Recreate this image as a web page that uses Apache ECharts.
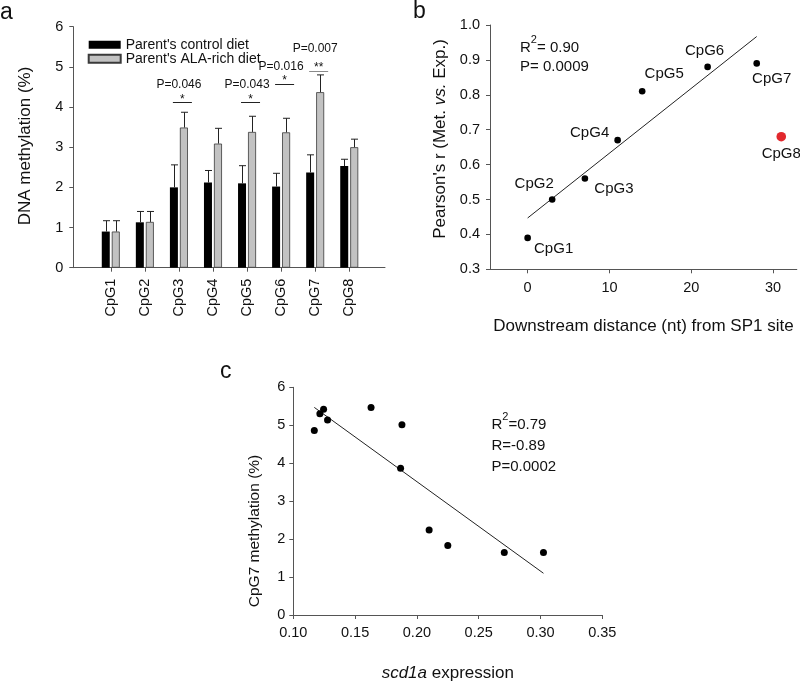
<!DOCTYPE html>
<html><head><meta charset="utf-8">
<script src="https://cdn.jsdelivr.net/npm/echarts@6/dist/echarts.min.js"></script>
<style>html,body{margin:0;padding:0;background:#fff}#chart{width:800px;height:683px}</style>
</head><body><div id="chart"></div>
<script>
// ---------- Panel a data ----------
const categoriesA = ['CpG1','CpG2','CpG3','CpG4','CpG5','CpG6','CpG7','CpG8'];
const seriesNamesA = ["Parent's control diet", "Parent's ALA-rich diet"];
const controlMeans = [0.90, 1.13, 2.00, 2.12, 2.10, 2.02, 2.37, 2.53];
const controlErr   = [0.27, 0.27, 0.56, 0.30, 0.44, 0.33, 0.44, 0.17];
const alaMeans     = [0.90, 1.14, 3.49, 3.09, 3.38, 3.37, 4.37, 3.00];
const alaErr       = [0.27, 0.26, 0.38, 0.38, 0.39, 0.35, 0.43, 0.20];
const sigCategories = ['CpG3','CpG5','CpG6','CpG7'];
const sigPLabels    = ['P=0.046','P=0.043','P=0.016','P=0.007'];
const sigStars      = ['*','*','*','**'];
const sigTextLevel  = [4.55, 4.55, 5.00, 5.46];
const sigLineLevel  = [4.12, 4.12, 4.57, 4.90];

// ---------- Panel b data ----------
const cpgNamesB  = ['CpG1','CpG2','CpG3','CpG4','CpG5','CpG6','CpG7','CpG8'];
const distanceB  = [0, 3, 7, 11, 14, 22, 28, 31];
const pearsonB   = [0.39, 0.50, 0.56, 0.67, 0.81, 0.88, 0.89, 0.68];
const outlierB   = ['CpG8'];
const fitBx      = [0, 28];
const fitBy      = [0.447, 0.967];
const xTicksB    = [0, 10, 20, 30];
const statsB     = ['0.90', '0.0009'];

// ---------- Panel c data ----------
const scd1aExpr  = [0.117, 0.1215, 0.1245, 0.1277, 0.1629, 0.1868, 0.1879, 0.2099, 0.2250, 0.2707, 0.3024];
const cpg7Meth   = [4.86, 5.30, 5.42, 5.14, 5.47, 3.87, 5.01, 2.24, 1.83, 1.65, 1.65];
const fitCx      = [0.117, 0.3024];
const fitCy      = [5.47, 1.10];
const statsC     = ['0.79', '-0.89', '0.0002'];

// ---------- layout / style ----------
const FONT = "'Liberation Sans', Arial, Helvetica, sans-serif";
const AX = '#555';
const TXT = '#111';
// label centre offsets (px) from each point in panel b
const labelOffsetsB = [[26,11],[-18,-16],[29,10],[-28,-7],[22,-17],[-3,-16],[15,15],[0,17]];
const posA = categoriesA.map((c, i) => i + 1);
const BAR_OFF = 5;

const chart = echarts.init(document.getElementById('chart'), null, {renderer: 'canvas'});

function axisCommon(extra) {
  return Object.assign({
    axisLine: {show: true, onZero: false, lineStyle: {color: AX, width: 1}},
    axisTick: {show: true, length: 4, lineStyle: {color: AX}},
    splitLine: {show: false},
    axisLabel: {color: TXT, fontSize: 14.5, fontFamily: FONT}
  }, extra);
}

const errData = [];
controlMeans.forEach((v, i) => errData.push([i + 1, v, v + controlErr[i], 0]));
alaMeans.forEach((v, i) => errData.push([i + 1, v, v + alaErr[i], 1]));

const sigData = sigCategories.map((c, k) => [categoriesA.indexOf(c) + 1, sigTextLevel[k], sigLineLevel[k], k]);

const pointsB = distanceB.map((d, i) => [d, pearsonB[i], outlierB.indexOf(cpgNamesB[i]) >= 0 ? 1 : 0, i]);

function txt(x, y, text, size, opts) {
  return Object.assign({
    type: 'text', x: x, y: y, silent: true,
    style: Object.assign({
      text: text, fontSize: size, fontFamily: FONT, fill: TXT,
      align: 'left', verticalAlign: 'middle', textAlign: 'left', textVerticalAlign: 'middle'
    }, opts && opts.style)
  }, opts && opts.el);
}

const supRich = {
  r: {fontSize: 15, fontFamily: FONT, lineHeight: 28, color: TXT},
  s: {fontSize: 11, fontFamily: FONT, lineHeight: 12, verticalAlign: 'top', color: TXT}
};

const option = {
  animation: false,
  textStyle: {fontFamily: FONT},
  legend: {
    data: seriesNamesA, orient: 'vertical', left: 82.7, top: 32.7,
    itemWidth: 32, itemHeight: 8, itemGap: 0, icon: 'rect', selectedMode: false,
    textStyle: {fontSize: 14, lineHeight: 13, color: TXT, fontFamily: FONT}
  },
  grid: [
    {left: 73.3, top: 26.7, width: 311.7, height: 241},
    {left: 490, top: 25, width: 306.8, height: 244.3},
    {left: 293.3, top: 387.3, width: 309, height: 236}
  ],
  xAxis: [
    axisCommon({
      type: 'value', gridIndex: 0, min: -0.1, max: 9.05,
      axisTick: {show: true, length: 4, customValues: posA, lineStyle: {color: AX}},
      axisLabel: {customValues: posA, rotate: 90, margin: 11, color: TXT, fontSize: 14.5, fontFamily: FONT,
        formatter: v => categoriesA[Math.round(v) - 1]}
    }),
    axisCommon({
      type: 'value', gridIndex: 1, min: -4.6, max: 32.9,
      axisTick: {show: true, length: 4, customValues: xTicksB, lineStyle: {color: AX}},
      axisLabel: {customValues: xTicksB, margin: 11, color: TXT, fontSize: 14.5, fontFamily: FONT},
      name: 'Downstream distance (nt) from SP1 site', nameLocation: 'middle', nameGap: 49,
      nameTextStyle: {fontSize: 17, color: TXT, fontFamily: FONT}
    }),
    axisCommon({
      type: 'value', gridIndex: 2, min: 0.10, max: 0.35, interval: 0.05,
      axisLabel: {margin: 10, color: TXT, fontSize: 14.5, fontFamily: FONT, formatter: v => v.toFixed(2)},
      name: '{i|scd1a} expression', nameLocation: 'middle', nameGap: 50,
      nameTextStyle: {fontSize: 17, color: TXT, fontFamily: FONT,
        rich: {i: {fontStyle: 'italic', fontSize: 17, color: TXT, fontFamily: FONT}}}
    })
  ],
  yAxis: [
    axisCommon({type: 'value', gridIndex: 0, min: 0, max: 6, interval: 1,
      axisLabel: {margin: 10, color: TXT, fontSize: 14.5, fontFamily: FONT}}),
    axisCommon({type: 'value', gridIndex: 1, min: 0.3, max: 1.0, interval: 0.1,
      axisLabel: {margin: 10, color: TXT, fontSize: 14.5, fontFamily: FONT, formatter: v => v.toFixed(1)}}),
    axisCommon({type: 'value', gridIndex: 2, min: 0, max: 6, interval: 1,
      axisLabel: {margin: 8, color: TXT, fontSize: 14.5, fontFamily: FONT}})
  ],
  series: [
    {
      name: seriesNamesA[0], type: 'bar', xAxisIndex: 0, yAxisIndex: 0,
      data: controlMeans.map((v, i) => [i + 1, v]),
      barWidth: 8, barGap: '25%',
      itemStyle: {color: '#000'}
    },
    {
      name: seriesNamesA[1], type: 'bar', xAxisIndex: 0, yAxisIndex: 0,
      data: alaMeans.map((v, i) => [i + 1, v]),
      barWidth: 8, barGap: '25%',
      itemStyle: {color: '#c2c2c2', borderColor: '#3a3a3a', borderWidth: 0.8}
    },
    {
      type: 'custom', xAxisIndex: 0, yAxisIndex: 0, silent: true, z: 3,
      data: errData, encode: {x: 0, y: [1, 2]},
      renderItem: function (params, api) {
        const x = api.value(0), m = api.value(1), t = api.value(2);
        const dx = api.value(3) === 0 ? -BAR_OFF : BAR_OFF;
        const pb = api.coord([x, m]), pt = api.coord([x, t]);
        const cx = Math.round(pb[0] + dx) + 0.5;
        return {type: 'group', children: [
          {type: 'line', shape: {x1: cx, y1: pb[1], x2: cx, y2: pt[1]}, style: {stroke: '#222', lineWidth: 1}},
          {type: 'line', shape: {x1: cx - 3.5, y1: pt[1], x2: cx + 3.5, y2: pt[1]}, style: {stroke: '#222', lineWidth: 1}}
        ]};
      }
    },
    {
      type: 'custom', xAxisIndex: 0, yAxisIndex: 0, silent: true, z: 3,
      data: sigData, encode: {x: 0, y: [1, 2]},
      renderItem: function (params, api) {
        const x = api.value(0), k = api.value(3);
        const pText = api.coord([x, api.value(1)]);
        const pLine = api.coord([x, api.value(2)]);
        const gx = pLine[0] + BAR_OFF - 1.5;
        return {type: 'group', children: [
          {type: 'text', x: pText[0], y: pText[1], style: {text: sigPLabels[k], fontSize: 12, fontFamily: FONT, fill: TXT,
            align: 'center', verticalAlign: 'middle', textAlign: 'center', textVerticalAlign: 'middle'}},
          {type: 'line', shape: {x1: gx - 9.5, y1: Math.round(pLine[1]) + 0.5, x2: gx + 9.5, y2: Math.round(pLine[1]) + 0.5},
            style: {stroke: k === 3 ? '#8a8a8a' : '#222', lineWidth: 1}},
          {type: 'text', x: gx, y: pLine[1] + 3, style: {text: sigStars[k], fontSize: 12, fontFamily: FONT, fill: TXT,
            align: 'center', verticalAlign: 'bottom', textAlign: 'center', textVerticalAlign: 'bottom'}}
        ]};
      }
    },
    {
      type: 'line', xAxisIndex: 1, yAxisIndex: 1, silent: true, showSymbol: false, symbol: 'none',
      data: fitBx.map((x, i) => [x, fitBy[i]]),
      lineStyle: {color: '#222', width: 1}
    },
    {
      // points of panel b with their CpG labels
      type: 'custom', xAxisIndex: 1, yAxisIndex: 1, silent: true, z: 4,
      data: pointsB, encode: {x: 0, y: 1},
      renderItem: function (params, api) {
        const p = api.coord([api.value(0), api.value(1)]);
        const out = api.value(2) === 1, i = api.value(3);
        const off = labelOffsetsB[i];
        return {type: 'group', children: [
          {type: 'circle', shape: {cx: p[0], cy: p[1], r: out ? 4.8 : 3.3}, style: {fill: out ? '#e2282d' : '#000'}},
          {type: 'text', x: p[0] + off[0], y: p[1] + off[1], style: {text: cpgNamesB[i], fontSize: 15, fontFamily: FONT,
            fill: TXT, align: 'center', verticalAlign: 'middle', textAlign: 'center', textVerticalAlign: 'middle'}}
        ]};
      }
    },
    {
      type: 'line', xAxisIndex: 2, yAxisIndex: 2, silent: true, showSymbol: false, symbol: 'none',
      data: fitCx.map((x, i) => [x, fitCy[i]]),
      lineStyle: {color: '#222', width: 1}
    },
    {
      type: 'scatter', xAxisIndex: 2, yAxisIndex: 2, silent: true, z: 4,
      data: scd1aExpr.map((x, i) => [x, cpg7Meth[i]]),
      symbolSize: 7, itemStyle: {color: '#000', opacity: 1}
    }
  ],
  graphic: {elements: [
    txt(0, 13, 'a', 23),
    txt(413, 12, 'b', 23),
    txt(220, 372, 'c', 23),
    txt(25, 146, 'DNA methylation (%)', 17, {el: {rotation: Math.PI / 2},
      style: {align: 'center', textAlign: 'center'}}),
    txt(440, 139, "Pearson's r (Met. {i|vs.} Exp.)", 17, {el: {rotation: Math.PI / 2},
      style: {align: 'center', textAlign: 'center',
        rich: {i: {fontStyle: 'italic', fontSize: 17, fontFamily: FONT, fill: TXT, color: TXT}}}}),
    txt(255, 531, 'CpG7 methylation (%)', 15.5, {el: {rotation: Math.PI / 2},
      style: {align: 'center', textAlign: 'center'}}),
    txt(520, 48, '{r|R}{s|2}{r|= ' + statsB[0] + '}', 15, {style: {rich: supRich}}),
    txt(520, 67, 'P= ' + statsB[1], 15),
    txt(491.5, 425, '{r|R}{s|2}{r|=' + statsC[0] + '}', 15, {style: {rich: supRich}}),
    txt(491.5, 446, 'R=' + statsC[1], 15),
    txt(491.5, 467, 'P=' + statsC[2], 15)
  ]}
};
chart.setOption(option);
</script>
</body></html>
